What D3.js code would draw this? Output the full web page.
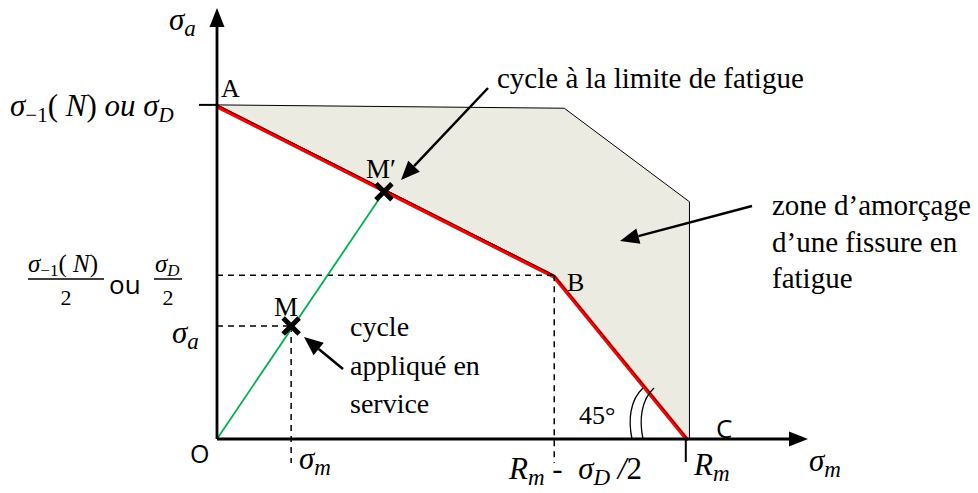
<!DOCTYPE html>
<head>
  <meta charset="utf-8">
  <script src="https://d3js.org/d3.v7.min.js"></script>
  <style>
    body { margin:0; background:#fff; }
    .math { font-family: "Liberation Serif", "DejaVu Serif", serif; font-style: italic; }
    .math .up { font-style: normal; }
    .serif { font-family: "Liberation Serif", serif; }
    .sans { font-family: "Open Sans", "Liberation Sans", sans-serif; }
  </style>
</head>
<body>
<script>
// points in stress units (sigma_D = 100)
const ptA = [0, 100], ptB = [101, 49], ptC = [141, 0];
const zone = [[0, 100], [104, 99], [141.5, 71], [141.5, 0], [141, 0], [101, 49]];
const redLine = [ptA, ptB, ptC];
const ptM = [22.2, 33.8], ptMp = [50, 74];
const xMax = 177, yMax = 129;

const width = 978, height = 493;
const x = d3.scaleLinear().domain([0, xMax]).range([217, 808]),
      y = d3.scaleLinear().domain([0, yMax]).range([439, 8]);
const line = d3.line().x(d => x(d[0])).y(d => y(d[1]));

const svg = d3.select('body').append('svg')
    .attr('width', width).attr('height', height);

// shaded zone
svg.append('path')
    .attr('d', line(zone) + 'Z')
    .attr('fill', '#ecebe2')
    .attr('stroke', '#000')
    .attr('stroke-width', 1);

// red limit line (drawn just under the black edge)
svg.append('path')
    .attr('d', line(redLine))
    .attr('transform', 'translate(0,1.5)')
    .attr('fill', 'none')
    .attr('stroke', '#ff0000')
    .attr('stroke-width', 4)
    .attr('stroke-linejoin', 'round');
svg.append('path')
    .attr('d', line(redLine))
    .attr('fill', 'none')
    .attr('stroke', '#000')
    .attr('stroke-width', 0.8);

// dashed guides
const dash = (x1, y1, x2, y2) => svg.append('line')
    .attr('x1', x1).attr('y1', y1).attr('x2', x2).attr('y2', y2)
    .attr('stroke', '#000').attr('stroke-width', 1.5)
    .attr('stroke-dasharray', '6,5');
dash(x(0), y(ptB[1]), x(ptB[0]), y(ptB[1]));
dash(x(ptB[0]), y(ptB[1]), x(ptB[0]), y(0) + 24);
dash(x(0), y(ptM[1]), x(ptM[0]), y(ptM[1]));
dash(x(ptM[0]), y(ptM[1]), x(ptM[0]), y(0) + 24);

// green load line
svg.append('line')
    .attr('x1', x(0)).attr('y1', y(0)).attr('x2', x(ptMp[0])).attr('y2', y(ptMp[1]))
    .attr('stroke', '#00b050').attr('stroke-width', 1.8);

// axes
svg.append('line').attr('x1', x(0)).attr('y1', y(0)).attr('x2', x(0)).attr('y2', y(yMax) + 14)
    .attr('stroke', '#000').attr('stroke-width', 2.8);
svg.append('line').attr('x1', x(0)).attr('y1', y(0)).attr('x2', x(xMax) - 14).attr('y2', y(0))
    .attr('stroke', '#000').attr('stroke-width', 2.8);
svg.append('path')
    .attr('d', `M${x(0)},${y(yMax)} L${x(0) - 7.5},${y(yMax) + 19} L${x(0) + 7.5},${y(yMax) + 19}Z`);
svg.append('path')
    .attr('d', `M${x(xMax)},${y(0)} L${x(xMax) - 19},${y(0) - 7.5} L${x(xMax) - 19},${y(0) + 7.5}Z`);

// ticks
svg.append('line').attr('x1', x(0) - 18).attr('x2', x(0)).attr('y1', y(100)).attr('y2', y(100))
    .attr('stroke', '#000').attr('stroke-width', 2);
svg.append('line').attr('x1', x(ptC[0]) - 2).attr('x2', x(ptC[0]) - 2).attr('y1', y(0)).attr('y2', y(0) + 23)
    .attr('stroke', '#000').attr('stroke-width', 2);

// 45 degree marks
[0, 11].forEach(o => {
  const x0 = 632 + o;
  svg.append('path')
      .attr('d', `M${x0},${y(0)} C${x0 - 4},420 ${x0 - 2},400 ${x0 + 11},388`)
      .attr('fill', 'none').attr('stroke', '#000').attr('stroke-width', 1.3);
});

// crosses
const cross = (p) => {
  const cx = x(p[0]), cy = y(p[1]), r = 8;
  svg.append('path')
      .attr('d', `M${cx - r},${cy - r}L${cx + r},${cy + r}M${cx - r},${cy + r}L${cx + r},${cy - r}`)
      .attr('stroke', '#000').attr('stroke-width', 5);
};
cross(ptM);
cross(ptMp);

// arrows
const arrow = (x1, y1, x2, y2) => {
  const a = Math.atan2(y2 - y1, x2 - x1), L = 19, W = 8;
  const bx = x2 - L * Math.cos(a), by = y2 - L * Math.sin(a);
  svg.append('line').attr('x1', x1).attr('y1', y1).attr('x2', bx).attr('y2', by)
      .attr('stroke', '#000').attr('stroke-width', 2.5);
  svg.append('path').attr('d',
      `M${x2},${y2}L${bx + W * Math.sin(a)},${by - W * Math.cos(a)}L${bx - W * Math.sin(a)},${by + W * Math.cos(a)}Z`);
};
arrow(488, 88, 401, 180);
arrow(752, 206, 620, 241);
arrow(343, 369, 304, 337);

// text helpers
const txt = (cls, xx, yy, size) => svg.append('text')
    .attr('class', cls).attr('x', xx).attr('y', yy).attr('font-size', size)
    .attr('xml:space', 'preserve');
const span = (t, s, opt = {}) => {
  const ts = t.append('tspan').text(s);
  if (opt.dy) ts.attr('dy', opt.dy);
  if (opt.size) ts.attr('font-size', opt.size);
  if (opt.up) ts.attr('class', 'up');
  return ts;
};

// axis titles
let t = txt('math', 169, 30, 31); span(t, 'σ'); span(t, 'a', {dy: 6, size: 23});
t = txt('math', 809, 471, 31); span(t, 'σ'); span(t, 'm', {dy: 6, size: 23});

// A tick label
t = txt('math', 10, 116, 31);
span(t, 'σ'); span(t, '−1', {dy: 6, size: 21, up: true});
span(t, '(', {dy: -6, up: true}); span(t, ' N'); span(t, ')', {up: true});
span(t, ' ou σ'); span(t, 'D', {dy: 6, size: 21});

// fraction labels
t = txt('math', 28, 272, 25);
span(t, 'σ'); span(t, '−1', {dy: 4, size: 17, up: true});
span(t, '(', {dy: -4, up: true}); span(t, ' N'); span(t, ')', {up: true});
svg.append('line').attr('x1', 28).attr('x2', 104).attr('y1', 279).attr('y2', 279)
    .attr('stroke', '#000').attr('stroke-width', 1.5);
txt('serif', 66, 305, 22).attr('text-anchor', 'middle').text('2');
txt('sans', 109, 294, 26).text('ou');
t = txt('math', 155, 272, 25);
span(t, 'σ'); span(t, 'D', {dy: 4, size: 17});
svg.append('line').attr('x1', 154).attr('x2', 182).attr('y1', 279).attr('y2', 279)
    .attr('stroke', '#000').attr('stroke-width', 1.5);
txt('serif', 168, 305, 22).attr('text-anchor', 'middle').text('2');

t = txt('math', 172, 343, 31); span(t, 'σ'); span(t, 'a', {dy: 6, size: 23});
txt('sans', 190, 463, 25).text('O');
t = txt('math', 299, 469, 31); span(t, 'σ'); span(t, 'm', {dy: 6, size: 23});
t = txt('math', 509, 479, 31); span(t, 'R'); span(t, 'm', {dy: 6, size: 23});
span(t, ' -  ', {dy: -6, up: true}); span(t, 'σ'); span(t, 'D', {dy: 6, size: 23});
span(t, ' /', {dy: -6}); span(t, '2', {up: true});
t = txt('math', 694, 475, 31); span(t, 'R'); span(t, 'm', {dy: 6, size: 23});

// point labels
txt('serif', 221, 97, 26).text('A');
txt('serif', 567, 291, 26).text('B');
txt('sans', 716, 438, 26).text('C');
txt('serif', 366, 178, 27).text('M′');
txt('serif', 274, 316, 27).text('M');
txt('serif', 579, 424, 26).text('45°');

// annotations
txt('serif', 497, 88, 29).text('cycle à la limite de fatigue');
['zone d’amorçage', 'd’une fissure en', 'fatigue'].forEach((s, i) =>
  txt('serif', 772, 215 + i * 36.5, 29).text(s));
['cycle', 'appliqué en', 'service'].forEach((s, i) =>
  txt('serif', 350, 336 + i * 38.5, 28).text(s));
</script>
</body>
